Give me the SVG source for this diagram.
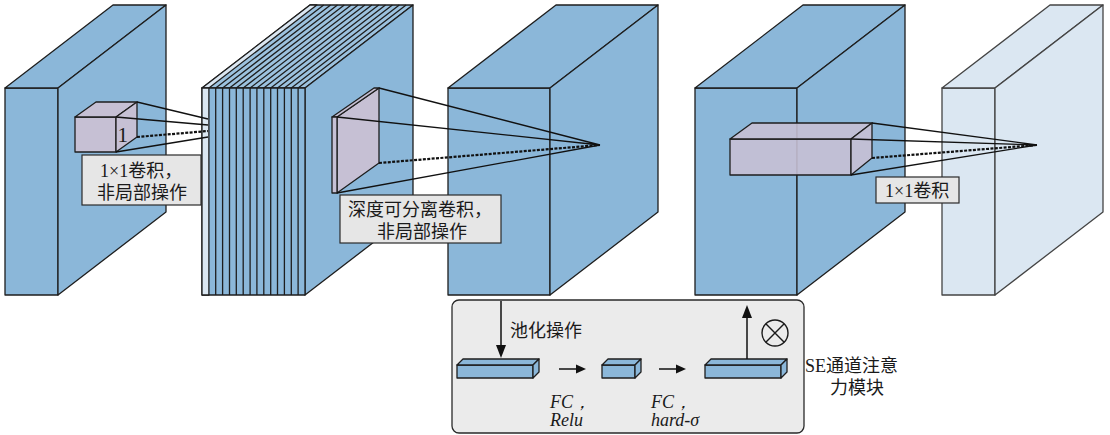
<svg xmlns="http://www.w3.org/2000/svg" width="1110" height="435" viewBox="0 0 1110 435">
  <defs>
    <style>
      .blk { fill: #8bb7d9; stroke: #1e1e1e; stroke-width: 1.3; stroke-linejoin: round; }
      .lite { fill: #dbe7f2; stroke: #444; stroke-width: 1.3; stroke-linejoin: round; }
      .kern { fill: #c6c0d4; stroke: #1e1e1e; stroke-width: 1.3; stroke-linejoin: round; }
      .ray { fill: none; stroke: #111; stroke-width: 1.3; }
      .dash { fill: none; stroke: #111; stroke-width: 2.2; stroke-dasharray: 3 1.4; }
      .lbl { fill: #e6e6e6; stroke: #2a2a2a; stroke-width: 1.2; }
      .txt { font-family: "Liberation Serif", "Noto Sans CJK SC", serif; font-size: 18px; fill: #1a1a1a; }
      .it { font-family: "Liberation Serif", serif; font-style: italic; font-size: 18px; fill: #1a1a1a; }
      .arr { stroke: #111; stroke-width: 1.5; fill: none; }
      .head { fill: #111; }
    </style>
  </defs>

  <!-- input feature map -->
  <g id="block1">
    <rect class="blk" x="5" y="88" width="53" height="207"/>
    <polygon class="blk" points="5,88 113,5 166,5 58,88"/>
    <polygon class="blk" points="58,88 166,5 166,212 58,295"/>
  </g>

  <!-- stack of 1x1 conv output slices -->
  <g id="block2">
    <polygon class="blk" points="202,88 310,5 413,5 305,88" style="fill:#9cc2df"/>
    <polygon class="blk" points="305,88 413,5 413,212 305,295"/>
    <rect class="blk" x="202" y="88" width="103" height="207"/>
    <polygon class="lite" style="stroke:#1e1e1e" points="202,88 310,5 316.9,5 208.9,88"/>
    <rect class="lite" style="stroke:#1e1e1e" x="202" y="88" width="6.9" height="207"/>
    <path fill="none" stroke="#1e1e1e" stroke-width="1.3" d="M215.7 88V295M222.6 88V295M229.5 88V295M236.3 88V295M243.2 88V295M250.1 88V295M256.9 88V295M263.8 88V295M270.7 88V295M277.5 88V295M284.4 88V295M291.3 88V295M298.1 88V295"/>
    <path fill="none" stroke="#1e1e1e" stroke-width="1.3" d="M215.7 88l108 -83M222.6 88l108 -83M229.5 88l108 -83M236.3 88l108 -83M243.2 88l108 -83M250.1 88l108 -83M256.9 88l108 -83M263.8 88l108 -83M270.7 88l108 -83M277.5 88l108 -83M284.4 88l108 -83M291.3 88l108 -83M298.1 88l108 -83"/>
  </g>

  <!-- depthwise conv output -->
  <g id="block3">
    <rect class="blk" x="448" y="88" width="102" height="207"/>
    <polygon class="blk" points="448,88 556,5 658,5 550,88"/>
    <polygon class="blk" points="550,88 658,5 658,212 550,295"/>
  </g>

  <!-- SE weighted feature map -->
  <g id="block4">
    <rect class="blk" x="695" y="88" width="102" height="207"/>
    <polygon class="blk" points="695,88 803,5 905,5 797,88"/>
    <polygon class="blk" points="797,88 905,5 905,212 797,295"/>
  </g>

  <!-- projected output -->
  <g id="block5">
    <rect class="lite" x="942" y="88" width="53" height="207"/>
    <polygon class="lite" points="942,88 1050,5 1103,5 995,88"/>
    <polygon class="lite" points="995,88 1103,5 1103,212 995,295"/>
  </g>

  <!-- 1x1 kernel on the input -->
  <g id="kernel1">
    <rect class="kern" x="75" y="117" width="41" height="35"/>
    <polygon class="kern" points="75,117 96,102 137,102 116,117"/>
    <polygon class="kern" points="116,117 137,102 137,137 116,152"/>
    <text class="txt" x="117.5" y="142" style="font-size:21px">1</text>
  </g>

  <!-- depthwise kernel -->
  <g id="kernel2">
    <polygon class="kern" points="337,117 379,88 379,163 337,193"/>
    <polygon class="kern" points="332,117 374,88 379,88 337,117"/>
    <rect class="kern" x="332" y="117" width="5" height="76"/>
  </g>

  <!-- pointwise kernel -->
  <g id="kernel3">
    <rect class="kern" x="730" y="139" width="121" height="36" fill-opacity="0.9"/>
    <polygon class="kern" points="730,139 752,123 872,123 851,139" fill-opacity="0.9"/>
    <polygon class="kern" points="851,139 872,123 872,158 851,175" fill-opacity="0.9"/>
  </g>

  <!-- projection rays -->
  <g id="connectors">
    <path class="ray" d="M137 102L208 119M116 117L208 125M116 152L208 137"/>
    <path class="dash" d="M137 137L208 131"/>
    <path class="ray" d="M379 88L600 145M337 117L600 145M337 193L600 145"/>
    <path class="dash" d="M379 163L600 145"/>
    <path class="ray" d="M872 123L1037 145M851 139L1037 145M851 175L1037 145"/>
    <path class="dash" d="M872 158L1037 145"/>
  </g>

  <!-- labels -->
  <g id="label1">
    <rect class="lbl" x="82" y="155" width="119" height="50"/>
    <text class="txt" x="100" y="177">1×1卷积，</text>
    <text class="txt" x="97" y="199">非局部操作</text>
  </g>
  <g id="label2">
    <rect class="lbl" x="340" y="195" width="161" height="48"/>
    <text class="txt" x="348" y="216">深度可分离卷积，</text>
    <text class="txt" x="377" y="238">非局部操作</text>
  </g>
  <g id="label3">
    <rect class="lbl" x="876" y="177" width="83" height="26"/>
    <text class="txt" x="885" y="197">1×1卷积</text>
  </g>

  <!-- squeeze-and-excitation module -->
  <g id="se-module">
    <rect x="452" y="300" width="352" height="133" rx="7" fill="#ebebeb" stroke="#2a2a2a" stroke-width="1.3"/>
    <line class="arr" x1="501" y1="301" x2="501" y2="346"/>
    <polygon class="head" points="496,345 506,345 501,358"/>
    <text class="txt" x="510" y="337">池化操作</text>

    <g id="bar1">
      <rect class="blk" x="457" y="365" width="76" height="13"/>
      <polygon class="blk" points="457,365 463,359 539,359 533,365"/>
      <polygon class="blk" points="533,365 539,359 539,372 533,378"/>
    </g>
    <line class="arr" x1="559" y1="369" x2="577" y2="369"/>
    <polygon class="head" points="576,364.5 586,369 576,373.5"/>
    <g id="bar2">
      <rect class="blk" x="602" y="365" width="33" height="13"/>
      <polygon class="blk" points="602,365 608,359 641,359 635,365"/>
      <polygon class="blk" points="635,365 641,359 641,372 635,378"/>
    </g>
    <line class="arr" x1="659" y1="369" x2="677" y2="369"/>
    <polygon class="head" points="676,364.5 686,369 676,373.5"/>
    <g id="bar3">
      <rect class="blk" x="705" y="365" width="76" height="13"/>
      <polygon class="blk" points="705,365 711,359 787,359 781,365"/>
      <polygon class="blk" points="781,365 787,359 787,372 781,378"/>
    </g>
    <line class="arr" x1="747" y1="359" x2="747" y2="317"/>
    <polygon class="head" points="742,318 752,318 747,305"/>

    <g id="otimes" fill="none" stroke="#1a1a1a" stroke-width="1.4">
      <circle cx="775" cy="333" r="13"/>
      <path d="M765.8 323.8L784.2 342.2M784.2 323.8L765.8 342.2"/>
    </g>

    <text class="it" x="550" y="408">FC，</text>
    <text class="it" x="550" y="426">Relu</text>
    <text class="it" x="651" y="408">FC，</text>
    <text class="it" x="651" y="426">hard-σ</text>
  </g>
  <g id="se-caption">
    <text class="txt" x="805" y="372">SE通道注意</text>
    <text class="txt" x="830" y="394">力模块</text>
  </g>
</svg>
